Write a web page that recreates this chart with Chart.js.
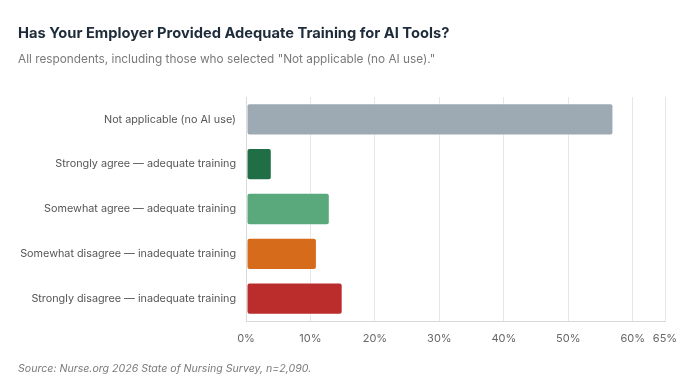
<!DOCTYPE html>
<html>
<head>
<meta charset="utf-8">
<script src="https://cdn.jsdelivr.net/npm/chart.js@4"></script>
<style>
    body { margin: 0; background: #fff; font-family: Inter, "Noto Sans", sans-serif; }
    #wrap { position: relative; width: 691px; height: 392px; }
    #title { position: absolute; left: 18px; top: 24px; font-size: 14.7px; font-weight: 700; color: #1e2b3a; }
    #subtitle { position: absolute; left: 18px; top: 52px; font-size: 11.8px; color: #7a7a7a; }
    #source { position: absolute; left: 18px; top: 362px; font-size: 10.6px; font-style: italic; color: #7a7a7a; }
    canvas { position: absolute; left: 0; top: 0; }
</style>
</head>
<body>
<div id="wrap">
    <canvas id="myChart" width="691" height="392"></canvas>
    <div id="title">Has Your Employer Provided Adequate Training for AI Tools?</div>
    <div id="subtitle">All respondents, including those who selected "Not applicable (no AI use)."</div>
    <div id="source">Source: Nurse.org 2026 State of Nursing Survey, n=2,090.</div>
</div>
<script>
    const categories = ['Not applicable (no AI use)', 'Strongly agree — adequate training', 'Somewhat agree — adequate training',
        'Somewhat disagree — inadequate training', 'Strongly disagree — inadequate training'];
    const shares = [57, 4, 13, 11, 15];
    const barColors = ['#9da9b3', '#1f6e45', '#5aa97d', '#d66b1c', '#bb2c2c'];
    const tickValues = [0, 10, 20, 30, 40, 50, 60, 65];

    const ctx = document.getElementById('myChart');
    let myChart = new Chart(ctx, {
        type: 'bar',
        data: {
            labels: categories,
            datasets: [
                {
                    data: shares,
                    backgroundColor: barColors,
                    borderColor: 'rgba(255,255,255,0.6)',
                    borderWidth: 1,
                    borderRadius: 3,
                    borderSkipped: false
                }
            ]
        },
        options: {
            indexAxis: 'y',
            responsive: false,
            animation: false,
            layout: {padding: {left: 0, right: 26, top: 97, bottom: 40}},
            plugins: {legend: {display: false}, tooltip: {enabled: false}},
            scales: {
                x: {
                    min: 0,
                    max: 65,
                    afterBuildTicks: function (scale) {
                        scale.ticks = tickValues.map(v => ({value: v}));
                    },
                    afterFit: function (scale) { scale.height = 31; },
                    grid: {color: '#e6e6e6', drawTicks: false},
                    border: {color: '#d9d9d9'},
                    ticks: {
                        padding: 11,
                        color: '#666',
                        font: {family: 'Inter', size: 11},
                        callback: v => v + '%'
                    }
                },
                y: {
                    afterFit: function (scale) { scale.width = 246; },
                    grid: {display: false, drawTicks: false},
                    border: {color: '#d9d9d9'},
                    ticks: {
                        padding: 10,
                        color: '#555',
                        font: {family: 'Inter', size: 10.8}
                    }
                }
            }
        }
    });
</script>
</body>
</html>
